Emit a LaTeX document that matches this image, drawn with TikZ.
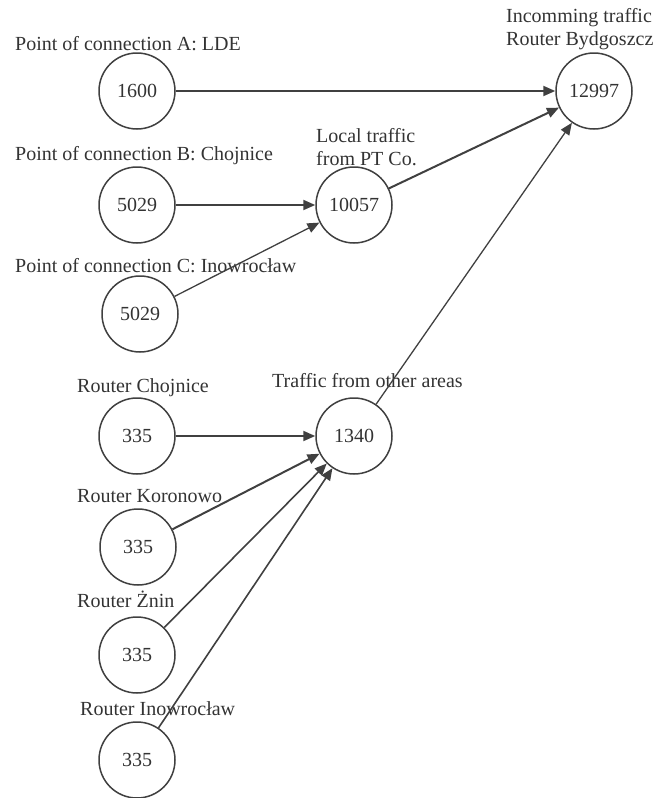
\documentclass[tikz,border=0pt]{standalone}
\usepackage{fontspec}
\setmainfont{Liberation Serif}
\usepackage{tikz}
\usetikzlibrary{
  positioning,
  arrows.meta
}
\definecolor{lineGray}{HTML}{404040}
\definecolor{textGray}{HTML}{333333}
\tikzstyle{ring}=[circle, draw=lineGray, line width=1.5pt, minimum size=76pt, inner sep=0pt, text=textGray, font=\fontsize{20}{23}\selectfont]
\tikzstyle{tagtext}=[inner sep=0pt, text=textGray, font=\fontsize{20}{23}\selectfont, anchor=base west]
\tikzstyle{feed}=[-{Triangle[length=12pt, width=10pt]}, draw=lineGray, line width=2pt]
\tikzstyle{feedthin}=[feed, line width=1.3pt]

\begin{document}
\begin{tikzpicture}[x=1pt, y=-1pt]
  \useasboundingbox (0,0) rectangle (663,798);

  % points of connection
  \node[ring] (ptA) at (137,91) {1600};
  \node[ring] (ptB) at (137,205) {5029};
  \node[ring] (ptC) at (140,314) {5029};

  % sums
  \node[ring] (byd) at (594,91) {12997};
  \node[ring] (loc) at (354,205) {10057};
  \node[ring] (oth) at (354,436) {1340};

  % routers
  \node[ring] (rChoj) at (137,436) {335};
  \node[ring] (rKoro) at (138,547) {335};
  \node[ring] (rZnin) at (137,655) {335};
  \node[ring] (rInow) at (137,760) {335};

  % labels
  \node[tagtext] (labA) at (15,50) {Point of connection A: LDE};
  \node[tagtext] (labB) at (15,160) {Point of connection B: Chojnice};
  \node[tagtext] (labC) at (15,272) {Point of connection C: Inowrocław};
  \node[tagtext, anchor=north west, align=left] (labByd) at (506,8) {Incomming traffic\\Router Bydgoszcz};
  \node[tagtext, anchor=north west, align=left] (labLoc) at (316,128) {Local traffic\\from PT Co.};
  \node[tagtext] (labOth) at (272,387) {Traffic from other areas};
  \node[tagtext] (labChoj) at (77,392) {Router Chojnice};
  \node[tagtext] (labKoro) at (77,502) {Router Koronowo};
  \node[tagtext] (labZnin) at (77,607) {Router Żnin};
  \node[tagtext] (labInow) at (80,715) {Router Inowrocław};

  % flows
  \draw[feed] (ptA) -- (byd);
  \draw[feed] (ptB) -- (loc);
  \draw[feedthin] (ptC) -- (loc);
  \draw[feed] (loc) -- (byd);
  \draw[feedthin] (oth) -- (byd);
  \draw[feed] (rChoj) -- (oth);
  \draw[feed] (rKoro) -- (oth);
  \draw[feed, line width=1.6pt] (rZnin) -- (oth);
  \draw[feed, line width=1.6pt] (rInow) -- (oth);
\end{tikzpicture}
\end{document}
